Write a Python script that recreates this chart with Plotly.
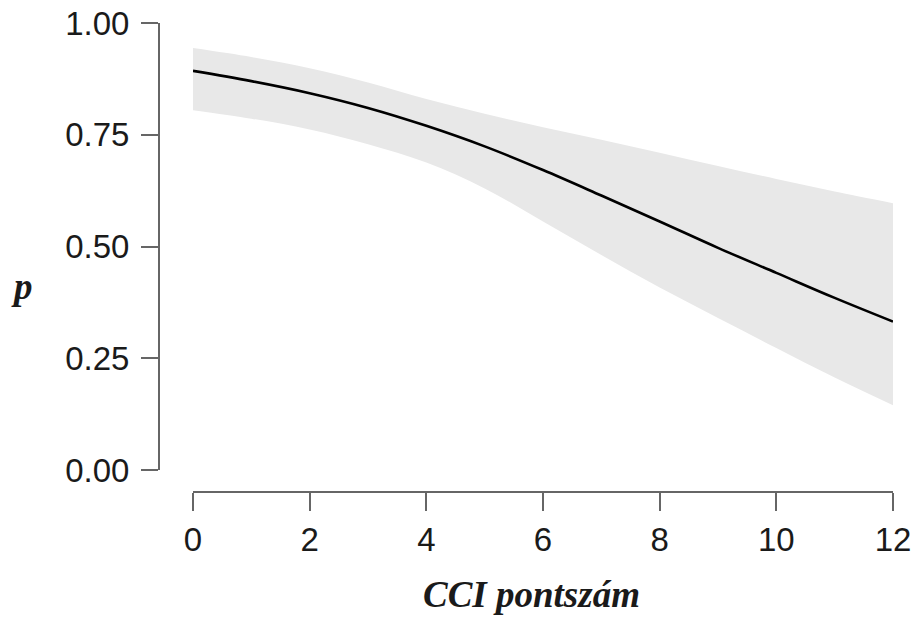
import plotly.graph_objects as go

# Predicted probability by CCI score, with its confidence band
cci = [0, 1, 2, 3, 4, 5, 6, 7, 8, 9, 10, 11, 12]
p_fit = [0.893, 0.870, 0.843, 0.810, 0.770, 0.724, 0.671, 0.614, 0.556, 0.497, 0.441, 0.385, 0.332]
ci_upper = [0.944, 0.924, 0.899, 0.867, 0.830, 0.797, 0.767, 0.739, 0.710, 0.680, 0.651, 0.623, 0.597]
ci_lower = [0.805, 0.786, 0.762, 0.729, 0.688, 0.630, 0.556, 0.481, 0.408, 0.340, 0.273, 0.207, 0.145]

x_ticks = [0, 2, 4, 6, 8, 10, 12]
y_ticks = [0, 0.25, 0.5, 0.75, 1.0]
y_tick_labels = ["0.00", "0.25", "0.50", "0.75", "1.00"]

W, H = 918, 620
AXIS_COLOR = "#666666"
TICK_FONT = dict(family="Liberation Sans, Arial, sans-serif", size=33, color="#1a1a1a")
TITLE_FONT = dict(family="Liberation Serif, Times New Roman, serif", size=37, color="#1a1a1a")

fig = go.Figure()

fig.add_trace(go.Scatter(
    x=cci, y=ci_lower, mode="lines", line=dict(width=0, shape="spline"),
    hoverinfo="skip", showlegend=False,
))
fig.add_trace(go.Scatter(
    x=cci, y=ci_upper, mode="lines", line=dict(width=0, shape="spline"),
    fill="tonexty", fillcolor="#e8e8e8", hoverinfo="skip", showlegend=False,
))
fig.add_trace(go.Scatter(
    x=cci, y=p_fit, mode="lines", line=dict(color="black", width=2.6, shape="spline"),
    showlegend=False,
))

fig.update_layout(
    width=W, height=H,
    template="none",
    paper_bgcolor="white", plot_bgcolor="white",
    margin=dict(l=0, r=0, t=0, b=0, autoexpand=False),
    showlegend=False,
    xaxis=dict(
        domain=[193 / W, 893 / W], range=[0, 12],
        anchor="free", position=(H - 492) / H,
        showline=True, linecolor=AXIS_COLOR, linewidth=2,
        showgrid=False, zeroline=False,
        ticks="outside", ticklen=18, tickwidth=2, tickcolor=AXIS_COLOR,
        tickvals=x_ticks, tickfont=TICK_FONT, automargin=False,
    ),
    yaxis=dict(
        domain=[(H - 470) / H, (H - 23) / H], range=[0, 1],
        anchor="free", position=159 / W,
        showline=True, linecolor=AXIS_COLOR, linewidth=2,
        showgrid=False, zeroline=False,
        ticks="outside", ticklen=17, tickwidth=2, tickcolor=AXIS_COLOR,
        ticklabelstandoff=5,
        tickvals=y_ticks, ticktext=y_tick_labels, tickfont=TICK_FONT, automargin=False,
    ),
    annotations=[
        dict(text="<b><i>CCI pontszám</i></b>", xref="paper", yref="paper",
             x=531 / W, y=(H - 594) / H, xanchor="center", yanchor="middle",
             showarrow=False, font=TITLE_FONT),
        dict(text="<b><i>p</i></b>", xref="paper", yref="paper",
             x=22 / W, y=(H - 286) / H, xanchor="center", yanchor="middle",
             showarrow=False, font=TITLE_FONT),
    ],
)

fig.write_html("out.html")
